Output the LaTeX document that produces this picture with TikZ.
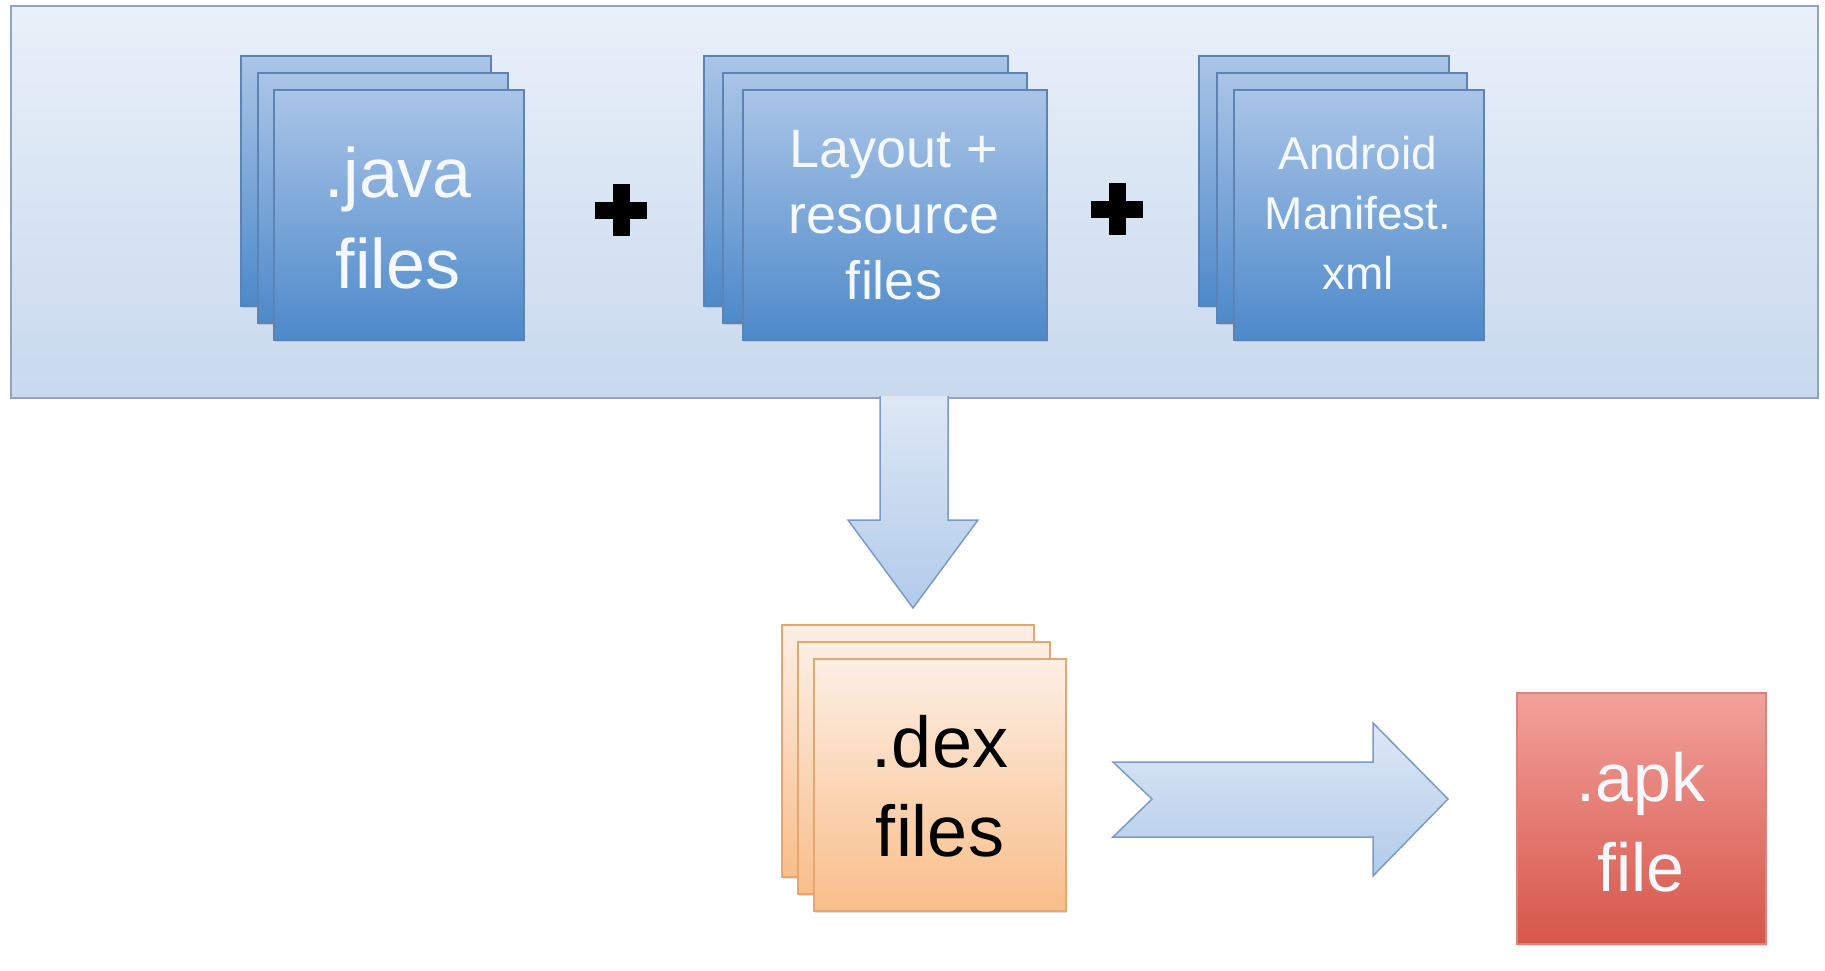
\documentclass[tikz,border=0pt]{standalone}
\usepackage{fontspec}
\setmainfont{Liberation Sans}
\usetikzlibrary{shadows}
\definecolor{boxtop}{HTML}{E9F0F9}
\definecolor{boxbot}{HTML}{C8D9EE}
\definecolor{boxedge}{HTML}{8FA4C0}
\definecolor{sheettop}{HTML}{AAC5E7}
\definecolor{sheetbot}{HTML}{4D89CA}
\definecolor{sheetedge}{HTML}{5C83B3}
\definecolor{dextop}{HTML}{FDEFE4}
\definecolor{dexbot}{HTML}{F9BE8A}
\definecolor{dexedge}{HTML}{E6A670}
\definecolor{apktop}{HTML}{F2A19B}
\definecolor{apkbot}{HTML}{D6564A}
\definecolor{apkedge}{HTML}{D9847C}
\definecolor{arrtop}{HTML}{DEE8F5}
\definecolor{arrbot}{HTML}{B1CBEA}
\definecolor{arredge}{HTML}{7B9BC6}
\definecolor{lighttext}{HTML}{F5F9FD}
\begin{document}
\begin{tikzpicture}[x=1pt,y=-1pt,
  container/.style={draw=boxedge, line width=2pt, top color=boxtop, bottom color=boxbot,
    anchor=north west, inner sep=0pt, minimum width=1807pt, minimum height=392pt},
  sheet/.style={draw=sheetedge, line width=1.5pt, top color=sheettop, bottom color=sheetbot,
    anchor=north west, inner sep=0pt,
    drop shadow={shadow xshift=1.5pt, shadow yshift=-2.5pt, opacity=0.25}},
  sqsheet/.style={sheet, minimum width=250pt, minimum height=250pt},
  widesheet/.style={sheet, minimum width=304pt, minimum height=250pt},
  dexsheet/.style={sheet, draw=dexedge, top color=dextop, bottom color=dexbot,
    minimum width=252pt, minimum height=252pt},
  apkbox/.style={sheet, draw=apkedge, top color=apktop, bottom color=apkbot,
    minimum width=249pt, minimum height=251pt},
  lbl/.style={align=center, inner sep=0pt, text=lighttext},
  blockarrow/.style={draw=arredge, line width=1.5pt, top color=arrtop, bottom color=arrbot, line join=miter},
  plusbar/.style={fill=black},
  plusnode/.style={inner sep=0pt, minimum size=52pt}
]
\useasboundingbox (0,0) rectangle (1825,970);

% container
\node[container] (box) at (10,5) {};

% .java stack
\node[sqsheet] (j1) at (240,55) {};
\node[sqsheet] (j2) at (257,72) {};
\node[sqsheet] (j3) at (273,89) {};
\node[lbl, font=\fontsize{70}{91}\selectfont] (jt) at (398,218) {.java\\files};

% layout stack
\node[widesheet] (l1) at (703,55) {};
\node[widesheet] (l2) at (722,72) {};
\node[widesheet] (l3) at (742,89) {};
\node[lbl, font=\fontsize{54}{66}\selectfont] (lt) at (894,215) {Layout +\\resource\\files};

% manifest stack
\node[sqsheet] (m1) at (1198,55) {};
\node[sqsheet] (m2) at (1216,72) {};
\node[sqsheet] (m3) at (1233,89) {};
\node[lbl, font=\fontsize{46}{60}\selectfont] (mt) at (1358,213) {Android\\Manifest.\\xml};

% plus signs
\node[plusnode] (p1) at (621,210) {};
\node[plusnode] (p2) at (1117,209) {};
\fill[plusbar] ([yshift=-8.5pt]p1.west) rectangle ([yshift=8.5pt]p1.east);
\fill[plusbar] ([xshift=-8.5pt]p1.north) rectangle ([xshift=8.5pt]p1.south);
\fill[plusbar] ([yshift=-8.5pt]p2.west) rectangle ([yshift=8.5pt]p2.east);
\fill[plusbar] ([xshift=-8.5pt]p2.north) rectangle ([xshift=8.5pt]p2.south);

% down arrow
\draw[blockarrow] (880,396) -- (880,520) -- (848,520) -- (913,608) -- (978,520) -- (948,520) -- (948,396);

% .dex stack
\node[dexsheet] (d1) at (781,624) {};
\node[dexsheet] (d2) at (797,641) {};
\node[dexsheet] (d3) at (813,658) {};
\node[lbl, text=black, font=\fontsize{72}{89}\selectfont] (dt) at (940,786) {.dex\\files};

% right arrow
\draw[blockarrow] (1113,762) -- (1373,762) -- (1373,723) -- (1448,799) -- (1373,876) -- (1373,837) -- (1113,837) -- (1152,799) -- cycle;

% .apk
\node[apkbox] (a) at (1516,692) {};
\node[lbl, font=\fontsize{68}{90}\selectfont] (at) at (1641,822) {.apk\\file};
\end{tikzpicture}
\end{document}
